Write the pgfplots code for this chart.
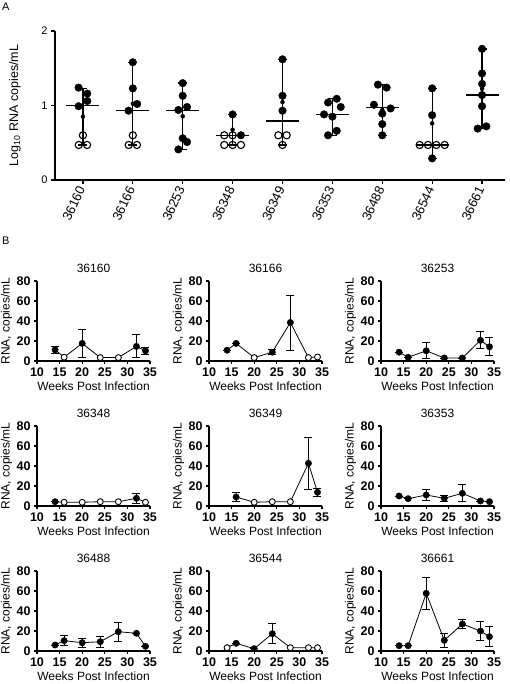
\documentclass[border=0pt]{standalone}
\usepackage{pgfplots}
\pgfplotsset{compat=1.18}
\usepackage{fontspec}
\setmainfont{Liberation Sans}
\newcommand{\fs}[1]{\fontsize{#1}{#1}\selectfont}
\pgfplotsset{
  bsub/.style={anchor=south west, scale only axis, width=113pt, height=80pt,
    xmin=10, xmax=35, ymin=0, ymax=80,
    axis x line*=bottom, axis y line*=left,
    axis line style={-, line width=1.1pt},
    tick align=outside, major tick length=3pt, tick style={line width=1.1pt, black},
    xtick={10,15,...,35}, ytick={0,20,...,80},
    ticklabel style={font=\bfseries\fs{12.5}},
    /pgf/number format/assume math mode=true,
    xlabel={Weeks Post Infection}, ylabel={RNA, copies/mL},
    label style={font=\fs{12}}, title style={font=\fs{12}, yshift=-1pt},
    xlabel style={at={(axis description cs:0.5,-0.31)}, anchor=center},
    ylabel style={at={(axis description cs:-0.27,0.5)}, anchor=center},
    clip=false},
  lin/.style={black, line width=0.8pt, mark=none},
  fpt/.style={only marks, mark=*, mark size=3.2pt, black,
    error bars/.cd, y dir=both, y explicit, error mark=-,
    error bar style={line width=0.8pt, black},
    error mark options={rotate=90, mark size=4pt, line width=0.8pt, black}},
  opt/.style={only marks, mark=*, mark size=3pt, mark options={fill=white, draw=black, line width=0.9pt}},
}
\begin{document}
\begin{tikzpicture}
\useasboundingbox (0pt,0pt) rectangle (510pt,684pt);
\node[anchor=north west, inner sep=0pt] at (2pt,681pt) {\fs{11}A};
\node[anchor=north west, inner sep=0pt] at (2pt,447pt) {\fs{11}B};

\begin{axis}[
  at={(55pt,504pt)}, anchor=south west, scale only axis, width=450pt, height=149pt,
  xmin=-0.56, xmax=8.46, ymin=0, ymax=2,
  axis x line*=bottom, axis y line*=left,
  axis line style={-, line width=1.3pt},
  tick align=outside, major tick length=4pt, tick style={line width=1.3pt, black},
  xtick={0,...,8},
  xticklabels={36160,36166,36253,36348,36349,36353,36488,36544,36661},
  xticklabel style={rotate=65, anchor=east, font=\fs{13}},
  ytick={0,1,2}, yticklabel style={font=\fs{11}},
  /pgf/number format/assume math mode=true,
  ylabel={Log\textsubscript{10} RNA copies/mL},
  ylabel style={font=\fs{12.5}, at={(axis description cs:-0.089,0.5)}, anchor=center},
  clip=false,
]
\addplot[only marks, mark=none, error bars/.cd, y dir=both, y explicit, error mark=-,
  error bar style={line width=1.3pt, black},
  error mark options={rotate=90, mark size=4.5pt, line width=1.3pt, black}] coordinates {
  (0,0.85) +- (0,0.38)
  (1,1.025) +- (0,0.555)
  (2,0.855) +- (0,0.445)
  (3,0.675) +- (0,0.205)
  (4,1.045) +- (0,0.575)
  (5,0.845) +- (0,0.245)
  (6,0.94) +- (0,0.34)
  (7,0.76) +- (0,0.47)
  (8,1.225) +- (0,0.535)
};
\addplot[black, line width=1.3pt, mark=none, unbounded coords=jump] coordinates {
  (-0.33,1.0) (0.33,1.0) (0.5,nan)
  (0.67,0.93) (1.33,0.93) (1.5,nan)
  (1.67,0.93) (2.33,0.93) (2.5,nan)
  (2.67,0.6) (3.33,0.6) (3.5,nan)
  (3.67,0.79) (4.33,0.79) (4.5,nan)
  (4.67,0.88) (5.33,0.88) (5.5,nan)
  (5.67,0.97) (6.33,0.97) (6.5,nan)
  (6.67,0.47) (7.33,0.47) (7.5,nan)
  (7.67,1.14) (8.33,1.14)
};
\addplot[only marks, mark=*, mark size=3.8pt, black] coordinates {
  (-0.087,1.24) (0.087,1.16) (0.087,1.06) (-0.087,0.99)
  (1,1.58) (1,1.23) (1.087,1.02) (0.913,0.93)
  (2,1.30) (2,1.13) (1.913,0.94) (2.087,0.98) (2,0.56) (2.087,0.51) (1.913,0.41)
  (3,0.88) (3.167,0.6)
  (4,1.62) (4,1.13) (4,0.93)
  (4.913,1.04) (5.087,1.09) (5.167,0.98) (4.833,0.88) (5,0.85) (5.087,0.66) (4.913,0.6)
  (5.913,1.28) (6.087,1.24) (5.833,1.01) (6.167,0.96) (6,0.89) (6,0.75) (6,0.6)
  (7,1.23) (7,0.87) (7,0.29)
  (8,1.76) (8,1.43) (8,1.29) (8,1.14) (8,0.99) (7.913,0.69) (8.087,0.72)
};
\addplot[only marks, mark=o, mark size=3.6pt, black, mark options={line width=1.1pt}] coordinates {
  (0,0.6) (-0.083,0.47) (0.083,0.47)
  (1,0.6) (0.917,0.47) (1.083,0.47)
  (2.833,0.6) (3,0.6) (2.833,0.47) (3,0.47) (3.167,0.47)
  (3.917,0.6) (4.083,0.6) (4,0.47)
  (6.75,0.47) (6.917,0.47) (7.083,0.47) (7.25,0.47)
};
\end{axis}

% Row 1
\begin{axis}[bsub, at={(37pt,323pt)}, title={36160}]
\addplot[lin] coordinates {(14,11.2) (16,3.8) (20,17.6) (24,3.4) (28,3.4) (32,14.6) (34,10.2)};
\addplot[fpt] coordinates {(14,11.2) +- (0,3.8) (20,17.6) +- (0,14) (32,14.6) +- (0,11.5) (34,10.2) +- (0,3.3)};
\addplot[opt] coordinates {(16,3.8) (24,3.4) (28,3.4)};
\end{axis}
\begin{axis}[bsub, at={(209pt,323pt)}, title={36166}]
\addplot[lin] coordinates {(14,10.8) (16,17.6) (20,3.4) (24,8.8) (28,38.5) (32,3.4) (34,4)};
\addplot[fpt] coordinates {(14,10.8) +- (0,0) (16,17.6) +- (0,0) (24,8.8) +- (0,2.5) (28,38.5) +- (0,27.5)};
\addplot[opt] coordinates {(20,3.4) (32,3.4) (34,4)};
\end{axis}
\begin{axis}[bsub, at={(381pt,323pt)}, title={36253}]
\addplot[lin] coordinates {(14,8.8) (16,3.7) (20,10.2) (24,3) (28,3) (32,20.7) (34,14.2)};
\addplot[fpt] coordinates {(14,8.8) +- (0,0) (16,3.7) +- (0,0) (20,10.2) +- (0,8) (24,3) +- (0,0) (28,3) +- (0,0) (32,20.7) +- (0,8.6) (34,14.2) +- (0,9)};
\end{axis}

% Row 2
\begin{axis}[bsub, at={(37pt,178pt)}, title={36348}]
\addplot[lin] coordinates {(14,4.3) (16,3.7) (20,3.7) (24,4.3) (28,4.3) (32,7.7) (34,3.7)};
\addplot[fpt] coordinates {(14,4.3) +- (0,0) (32,7.7) +- (0,4.7)};
\addplot[opt] coordinates {(16,3.7) (20,3.7) (24,4.3) (28,4.3) (34,3.7)};
\end{axis}
\begin{axis}[bsub, at={(209pt,178pt)}, title={36349}]
\addplot[lin] coordinates {(16,9) (20,3.7) (24,4.3) (28,4.3) (32,42.7) (34,13.7)};
\addplot[fpt] coordinates {(16,9) +- (0,4.5) (32,42.7) +- (0,26) (34,13.7) +- (0,3.7)};
\addplot[opt] coordinates {(20,3.7) (24,4.3) (28,4.3)};
\end{axis}
\begin{axis}[bsub, at={(381pt,178pt)}, title={36353}]
\addplot[lin] coordinates {(14,10) (16,7.3) (20,11) (24,7.7) (28,12.7) (32,5) (34,4.3)};
\addplot[fpt] coordinates {(14,10) +- (0,0) (16,7.3) +- (0,0) (20,11) +- (0,5.3) (24,7.7) +- (0,3) (28,12.7) +- (0,8.5) (32,5) +- (0,0) (34,4.3) +- (0,0)};
\end{axis}

% Row 3
\begin{axis}[bsub, at={(37pt,33pt)}, title={36488}]
\addplot[lin] coordinates {(14,6) (16,10.3) (20,8.3) (24,9.3) (28,19.3) (32,17.7) (34,4.7)};
\addplot[fpt] coordinates {(14,6) +- (0,0) (16,10.3) +- (0,4.8) (20,8.3) +- (0,4.5) (24,9.3) +- (0,5.5) (28,19.3) +- (0,9.3) (32,17.7) +- (0,0) (34,4.7) +- (0,0)};
\end{axis}
\begin{axis}[bsub, at={(209pt,33pt)}, title={36544}]
\addplot[lin] coordinates {(14,3.3) (16,7.7) (20,2.3) (24,17.3) (28,3.3) (32,3.3) (34,3.3)};
\addplot[fpt] coordinates {(16,7.7) +- (0,0) (20,2.3) +- (0,0) (24,17.3) +- (0,10.2)};
\addplot[opt] coordinates {(14,3.3) (28,3.3) (32,3.3) (34,3.3)};
\end{axis}
\begin{axis}[bsub, at={(381pt,33pt)}, title={36661}]
\addplot[lin] coordinates {(14,5.3) (16,5.3) (20,57.7) (24,10.7) (28,27) (32,20) (34,14.3)};
\addplot[fpt] coordinates {(14,5.3) +- (0,0) (16,5.3) +- (0,0) (20,57.7) +- (0,16.3) (24,10.7) +- (0,7.2) (28,27) +- (0,4.2) (32,20) +- (0,9.7) (34,14.3) +- (0,10)};
\end{axis}
\end{tikzpicture}
\end{document}
